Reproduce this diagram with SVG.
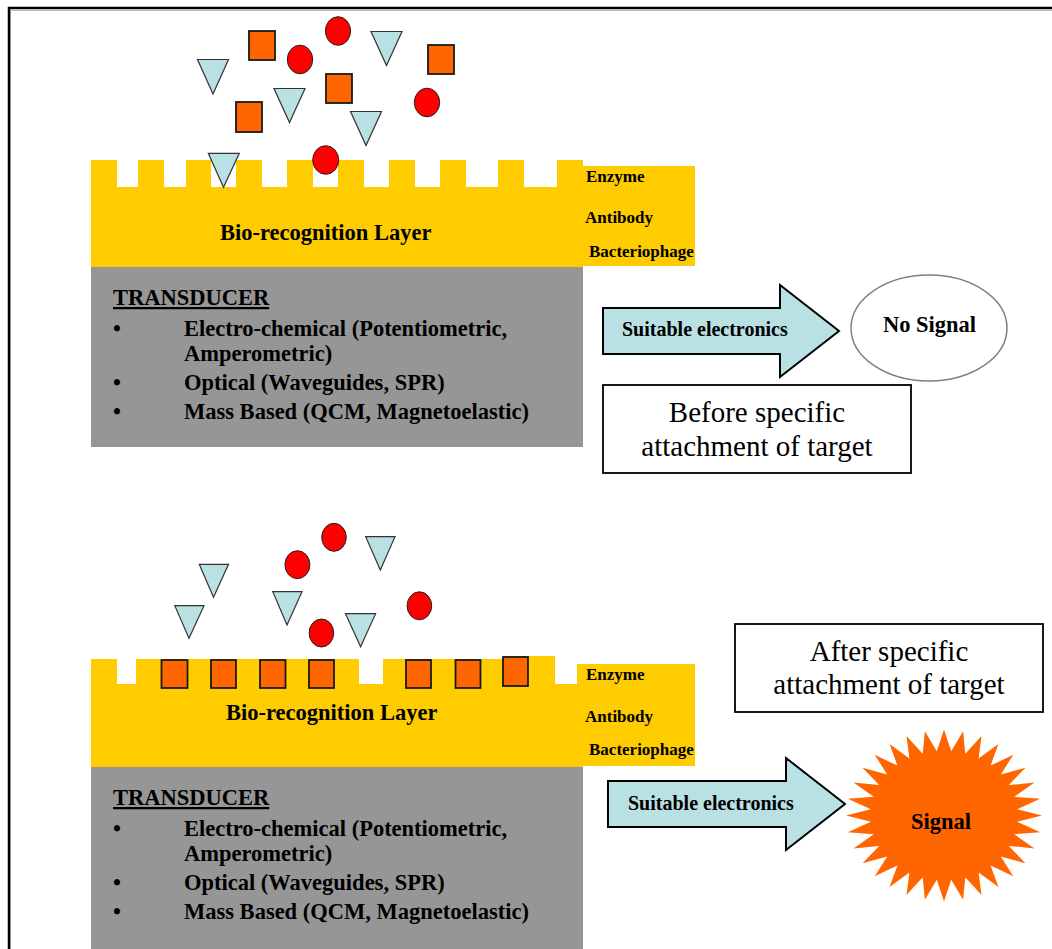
<svg xmlns="http://www.w3.org/2000/svg" width="1052" height="949" viewBox="0 0 1052 949">
<style>
.bold{font-family:"Liberation Serif","Times New Roman",serif;font-weight:bold;fill:#000}
.reg{font-family:"Liberation Serif","Times New Roman",serif;fill:#000}
.layer{fill:#FFCC00}
.trans{fill:#969696}
.sq{fill:#FF6600;stroke:#1a1a1a;stroke-width:1.8}
.ci{fill:#FF0000;stroke:#222;stroke-width:1}
.tr{fill:#B9E0E3;stroke:#333;stroke-width:1.2}
.arrow{fill:#B9E0E3;stroke:#000;stroke-width:2}
.box{fill:#fff;stroke:#000;stroke-width:1.8}
</style>
<rect width="1052" height="949" fill="#fff"/>
<g id="frame">
<path d="M10.5,951 V10.5 H1054" fill="none" stroke="#bbb" stroke-width="1"/>
<path d="M9,951 V8 H1054" fill="none" stroke="#000" stroke-width="2.5"/>
</g>

<g id="top-sensor">
<path class="layer" d="M91,267 V160 H117 V187 H138 V160 H164 V187 H186 V160 H211 V187 H236 V160 H262 V187 H287 V160 H313 V187 H338 V160 H364 V187 H389 V160 H415 V187 H440 V160 H466 V187 H498 V160 H524 V187 H557 V160 H583 V267 Z"/>
<rect class="layer" x="583" y="166" width="112" height="100"/>
<rect class="trans" x="91" y="267" width="492" height="180"/>
<text class="bold" x="220" y="240" font-size="22.5">Bio-recognition Layer</text>
<text class="bold" x="586" y="182" font-size="17">Enzyme</text>
<text class="bold" x="585" y="223" font-size="17">Antibody</text>
<text class="bold" x="589" y="257" font-size="17">Bacteriophage</text>
<text class="bold" x="113" y="305" font-size="22.5" text-decoration="underline">TRANSDUCER</text>
<text class="bold" x="113" y="336" font-size="22.5">•</text>
<text class="bold" x="184" y="336" font-size="22.5">Electro-chemical (Potentiometric,</text>
<text class="bold" x="184" y="361" font-size="22.5">Amperometric)</text>
<text class="bold" x="113" y="390" font-size="22.5">•</text>
<text class="bold" x="184" y="390" font-size="22.5">Optical (Waveguides, SPR)</text>
<text class="bold" x="113" y="419" font-size="22.5">•</text>
<text class="bold" x="184" y="419" font-size="22.5">Mass Based (QCM, Magnetoelastic)</text>
</g>

<g id="top-analytes">
<rect class="sq" x="249" y="31" width="26" height="29"/>
<rect class="sq" x="428" y="45" width="26" height="29"/>
<rect class="sq" x="326" y="74" width="26" height="29"/>
<rect class="sq" x="236" y="102" width="26" height="30"/>
<ellipse class="ci" cx="338" cy="31" rx="12.6" ry="14.3"/>
<ellipse class="ci" cx="300" cy="59.5" rx="12.7" ry="14.3"/>
<ellipse class="ci" cx="427" cy="102.5" rx="12.7" ry="14.3"/>
<ellipse class="ci" cx="325.7" cy="160" rx="13" ry="14.3"/>
<polygon class="tr" points="197.5,59.5 228.5,59.5 213,94"/>
<polygon class="tr" points="371,31.5 402,31.5 386.5,65.5"/>
<polygon class="tr" points="274,88.5 305,88.5 289.5,122.5"/>
<polygon class="tr" points="350.5,111.5 381.5,111.5 366,145.5"/>
<polygon class="tr" points="208.3,153.3 239.3,153.3 223.5,187.3"/>
</g>

<g id="bottom-sensor">
<path class="layer" d="M91,767 V659 H117 V684 H136 V659 H359 V684 H383 V659 H503 V656 H555 V684 H583 V767 Z"/>
<rect class="layer" x="577" y="664" width="118" height="102"/>
<rect class="trans" x="91" y="767" width="492" height="190"/>
<text class="bold" x="226" y="720" font-size="22.5">Bio-recognition Layer</text>
<text class="bold" x="586" y="680" font-size="17">Enzyme</text>
<text class="bold" x="585" y="722" font-size="17">Antibody</text>
<text class="bold" x="589" y="755" font-size="17">Bacteriophage</text>
<text class="bold" x="113" y="805" font-size="22.5" text-decoration="underline">TRANSDUCER</text>
<text class="bold" x="113" y="836" font-size="22.5">•</text>
<text class="bold" x="184" y="836" font-size="22.5">Electro-chemical (Potentiometric,</text>
<text class="bold" x="184" y="861" font-size="22.5">Amperometric)</text>
<text class="bold" x="113" y="890" font-size="22.5">•</text>
<text class="bold" x="184" y="890" font-size="22.5">Optical (Waveguides, SPR)</text>
<text class="bold" x="113" y="919" font-size="22.5">•</text>
<text class="bold" x="184" y="919" font-size="22.5">Mass Based (QCM, Magnetoelastic)</text>
</g>

<g id="bottom-bound-targets">
<rect class="sq" x="161.5" y="660" width="26" height="28"/>
<rect class="sq" x="211" y="660" width="25" height="28"/>
<rect class="sq" x="260" y="660" width="25.5" height="28"/>
<rect class="sq" x="309" y="660" width="25" height="28"/>
<rect class="sq" x="406" y="660" width="25" height="28"/>
<rect class="sq" x="455.5" y="660" width="25" height="28"/>
<rect class="sq" x="503" y="657" width="25" height="29"/>
</g>

<g id="bottom-analytes">
<ellipse class="ci" cx="334" cy="537.3" rx="12.3" ry="14"/>
<ellipse class="ci" cx="297.4" cy="564.7" rx="12.5" ry="14"/>
<ellipse class="ci" cx="419.4" cy="605.8" rx="12.3" ry="14"/>
<ellipse class="ci" cx="321.4" cy="633" rx="12.3" ry="14"/>
<polygon class="tr" points="199.3,564.3 228.5,564.3 213.5,597.3"/>
<polygon class="tr" points="365.7,536.7 395,536.7 380.3,570"/>
<polygon class="tr" points="272.8,591.7 302,591.7 287,625"/>
<polygon class="tr" points="174.8,605.7 204,605.7 189,638.3"/>
<polygon class="tr" points="345.5,613.7 375.6,613.7 360.6,646.7"/>
</g>

<g id="connectors">
<polygon id="arrow-top" class="arrow" points="603,308 780,308 780,285 839,331 780,377 780,354 603,354"/>
<polygon id="arrow-bottom" class="arrow" points="608,781 786,781 786,758 845,804 786,850 786,827 608,827"/>
</g>
<text class="bold" x="622" y="336" font-size="20">Suitable electronics</text>
<text class="bold" x="628" y="810" font-size="20">Suitable electronics</text>

<g id="no-signal">
<ellipse cx="929" cy="328" rx="78" ry="53" fill="#fff" stroke="#808080" stroke-width="1.5"/>
<text class="bold" x="929.5" y="332" font-size="22.5" text-anchor="middle">No Signal</text>
</g>

<g id="before-box">
<rect class="box" x="603" y="385" width="308" height="88"/>
<text class="reg" x="757" y="422" font-size="29" text-anchor="middle">Before specific</text>
<text class="reg" x="757" y="456" font-size="29" text-anchor="middle">attachment of target</text>
</g>

<g id="after-box">
<rect class="box" x="735" y="624" width="308" height="88"/>
<text class="reg" x="889" y="661" font-size="29" text-anchor="middle">After specific</text>
<text class="reg" x="889" y="694" font-size="29" text-anchor="middle">attachment of target</text>
</g>

<g id="signal">
<polygon fill="#FF6600" points="944,729.5 951.2,751.3 963.1,731.2 965.3,753.8 981.5,736 978.6,758.6 998.4,744 990.6,765.6 1013.3,754.7 1000.8,774.6 1025.5,767.7 1008.8,785.1 1034.5,782.6 1014.3,796.8 1040.1,798.7 1017.1,809.2 1042,815.5 1017.1,821.8 1040.1,832.3 1014.3,834.2 1034.5,848.4 1008.8,845.9 1025.5,863.3 1000.8,856.4 1013.3,876.3 990.6,865.4 998.4,887 978.6,872.4 981.5,895 965.3,877.2 963.1,899.8 951.2,879.7 944,901.5 936.8,879.7 924.9,899.8 922.7,877.2 906.5,895 909.4,872.4 889.6,887 897.4,865.4 874.7,876.3 887.2,856.4 862.5,863.3 879.2,845.9 853.5,848.4 873.7,834.2 847.9,832.3 870.9,821.8 846,815.5 870.9,809.2 847.9,798.7 873.7,796.8 853.5,782.6 879.2,785.1 862.5,767.7 887.2,774.6 874.7,754.7 897.4,765.6 889.6,744 909.4,758.6 906.5,736 922.7,753.8 924.9,731.2 936.8,751.3"/>
<text class="bold" x="941" y="829" font-size="22.5" text-anchor="middle">Signal</text>
</g>
</svg>
